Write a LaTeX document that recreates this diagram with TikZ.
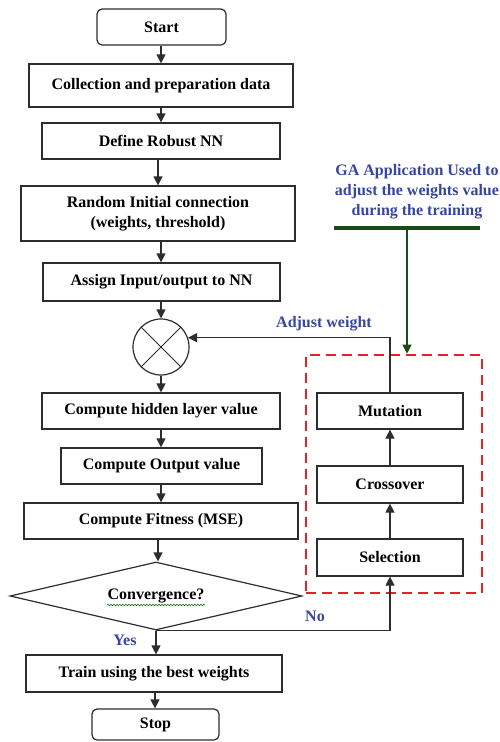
\documentclass[tikz,border=0pt]{standalone}
\usepackage{fontspec}
\setmainfont{Liberation Serif}
\usetikzlibrary{arrows.meta,shapes.geometric,decorations.pathmorphing}
\definecolor{boxline}{RGB}{45,45,45}
\definecolor{gablue}{RGB}{55,70,160}
\definecolor{gagreen}{RGB}{25,75,25}
\definecolor{garred}{RGB}{232,32,40}
\begin{document}
\begin{tikzpicture}[x=1pt,y=-1pt,
  every node/.style={font=\bfseries\fontsize{16}{20}\selectfont, text=black},
  proc/.style={draw=boxline, line width=1.2pt, rectangle, inner sep=0pt, align=center},
  term/.style={proc, rounded corners=5pt},
  arr/.style={draw=boxline, line width=1.2pt, -{Triangle[width=9pt,length=9pt]}},
  lbl/.style={text=gablue, font=\bfseries\fontsize{16}{20}\selectfont, align=center}
]
\useasboundingbox (0,0) rectangle (500,742);
\fill[white] (0,0) rectangle (500,742);

% main column
\node[term, minimum width=129pt, minimum height=36pt] (start) at (161.5,27) {Start};
\node[proc, minimum width=264pt, minimum height=43pt] (coll) at (161,85.5) {Collection and preparation data};
\node[proc, minimum width=238pt, minimum height=36pt] (def) at (161,141) {Define Robust NN};
\node[proc, minimum width=274pt, minimum height=55pt] (rand) at (158,213.5) {Random Initial connection\\(weights, threshold)};
\node[proc, minimum width=237pt, minimum height=38pt] (assign) at (161.5,282) {Assign Input/output to NN};
\node[draw=boxline, line width=1.2pt, circle, minimum size=56pt, inner sep=0pt] (cir) at (161,347) {};
\draw[boxline, line width=0.9pt] (cir.45) -- (cir.225) (cir.135) -- (cir.315);
\node[proc, minimum width=238pt, minimum height=36pt] (hid) at (161,411) {Compute hidden layer value};
\node[proc, minimum width=201pt, minimum height=36pt] (out) at (161.5,466) {Compute Output value};
\node[proc, minimum width=274pt, minimum height=36pt] (fit) at (161,521) {Compute Fitness (MSE)};
\node[draw=boxline, line width=1.2pt, diamond, aspect=4.294, minimum width=292pt, minimum height=68pt, inner sep=0pt] (dia) at (156,596) {Convergence?};
\draw[gagreen!80!green, line width=0.6pt, decorate, decoration={snake, amplitude=0.8pt, segment length=3pt}] (107,605) -- (205,605);
\node[proc, minimum width=256pt, minimum height=37pt] (train) at (154,673.5) {Train using the best weights};
\node[term, minimum width=127pt, minimum height=31pt] (stop) at (155.5,724.5) {Stop};

% GA part
\node[draw=garred, line width=2.6pt, dash pattern=on 10pt off 6pt, minimum width=176pt, minimum height=238pt, inner sep=0pt] (ga) at (394,474) {};
\node[proc, minimum width=146pt, minimum height=36pt] (mut) at (390,411) {Mutation};
\node[proc, minimum width=146pt, minimum height=37pt] (cro) at (390,484.5) {Crossover};
\node[proc, minimum width=146pt, minimum height=37pt] (sel) at (390,557.5) {Selection};

% labels
\node[lbl] (gatext) at (417,192) {GA Application Used to\\adjust the weights value\\during the training};
\node[lbl] (adj) at (324,324) {Adjust weight};
\node[lbl] (no) at (315,616) {No};
\node[lbl] (yes) at (125,640) {Yes};

% green bar and arrow
\coordinate (gl) at (334,228);
\coordinate (gr) at (480,228);
\coordinate (gm) at (407,228);
\draw[gagreen, line width=3.5pt] (gl) -- (gr);
\draw[gagreen, line width=1.2pt, -{Triangle[width=9pt,length=9pt]}] (gm) -- (gm |- ga.north);

% main arrows
\draw[arr] (start.south -| 161,0) -- (161,0 |- coll.north);
\draw[arr] (coll.south -| 161,0) -- (161,0 |- def.north);
\draw[arr] (def.south -| 158,0) -- (158,0 |- rand.north);
\draw[arr] (rand.south -| 161,0) -- (161,0 |- assign.north);
\draw[arr] (assign.south -| cir.north) -- (cir.north);
\draw[arr] (cir.south) -- (cir.south |- hid.north);
\draw[arr] (hid.south -| 161,0) -- (161,0 |- out.north);
\draw[arr] (out.south -| 161,0) -- (161,0 |- fit.north);
\draw[arr] (fit.south -| 158,0) -- (158,0 |- dia.north);
\draw[arr] (dia.south) -- (dia.south |- train.north);
\draw[arr] (train.south -| 155,0) -- (155,0 |- stop.north);

% GA arrows
\draw[arr] (dia.south) -- (dia.south -| sel.south) -- (sel.south);
\draw[arr] (sel.north) -- (cro.south);
\draw[arr] (cro.north) -- (mut.south);
\draw[arr] (mut.north) |- (cir.19);
\end{tikzpicture}
\end{document}
